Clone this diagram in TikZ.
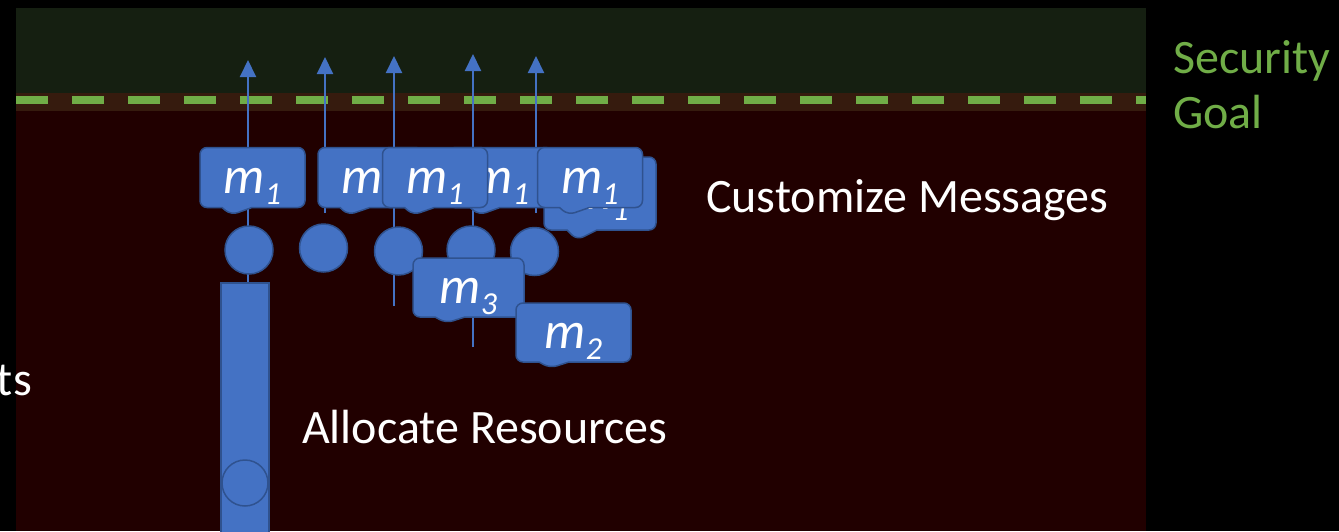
\documentclass[tikz,border=0pt]{standalone}
\usepackage{fontspec}
\setmainfont{Carlito}
\usetikzlibrary{arrows.meta,shapes.callouts}
\definecolor{topgreen}{HTML}{151F11}
\definecolor{bandbrown}{HTML}{361B0E}
\definecolor{lowred}{HTML}{210000}
\definecolor{dashgreen}{HTML}{70AD47}
\definecolor{mblue}{HTML}{4472C4}
\definecolor{mborder}{HTML}{2F528F}
\newcommand\mlab[1]{\raisebox{-9pt}[\height][\depth]{m\raisebox{-0.22em}{\fontsize{32}{32}\selectfont #1}}}
\tikzset{
  mcall/.style={rectangle callout, rounded corners=7pt, fill=mblue, draw=mborder,
    line width=1.5pt, inner sep=0pt, text=white, font=\fontsize{52}{52}\selectfont\itshape,
    callout pointer width=30pt},
  dot/.style={circle, fill=mblue, draw=mborder, line width=1.5pt, minimum size=48pt, inner sep=0pt},
  msgline/.style={draw=mblue, line width=2pt, -{Triangle[width=16pt,length=17pt]}},
  label/.style={text=white, inner sep=0pt, anchor=base west, font=\fontsize{48}{48}\selectfont}
}
\begin{document}
\begin{tikzpicture}[x=1pt,y=-1pt]
\useasboundingbox (0,0) rectangle (1339,531);
\fill[black] (0,0) rectangle (1339,531);
\fill[topgreen] (16,8) rectangle (1146,93);
\fill[bandbrown] (16,93) rectangle (1146,111);
\fill[lowred] (16,111) rectangle (1146,531);
\draw[dashgreen, line width=7.5pt, dash pattern=on 32pt off 24pt] (16,100) -- (1146,100);

% arrow ends
\coordinate (b1) at (248,283); \coordinate (t1) at (248,60);
\coordinate (b2) at (325,213); \coordinate (t2) at (325,57);
\coordinate (b3) at (394,306); \coordinate (t3) at (394,56);
\coordinate (b4) at (473,347); \coordinate (t4) at (473,54);
\coordinate (b5) at (536,213); \coordinate (t5) at (536,56);
\draw[msgline] (b1) -- (t1);
\draw[msgline] (b2) -- (t2);
\draw[msgline] (b3) -- (t3);
\draw[msgline] (b4) -- (t4);
\draw[msgline] (b5) -- (t5);

% resource bar
\node[rectangle, fill=mblue, draw=mborder, line width=1.5pt, minimum width=48pt, minimum height=260pt, inner sep=0pt, anchor=north] (bar) at (245,282) {};
\node[circle, fill=mblue, draw=mborder, line width=1.5pt, minimum size=46pt, inner sep=0pt] (slot) at (245,483) {};

% circles
\node[dot] (c1) at (249,250) {};
\node[dot] (c2) at (323.5,248) {};
\node[dot] (c3) at (398.5,251) {};
\node[dot] (c4) at (471,250) {};
\node[dot] (c5) at (534.5,251.5) {};

% callouts
\node[mcall, minimum width=105pt, minimum height=60pt, callout absolute pointer={(231,215)}] (k1) at (252.5,177.5) {\mlab{1}};
\node[mcall, minimum width=105pt, minimum height=60pt, callout absolute pointer={(348,215)}] (k2) at (370.5,177.5) {\mlab{1}};
\node[mcall, minimum width=105pt, minimum height=60pt, callout absolute pointer={(479,215)}] (k4) at (500.5,177.5) {\mlab{1}};
\node[mcall, minimum width=105pt, minimum height=60pt, callout absolute pointer={(413,215)}] (k3) at (435,177.5) {\mlab{1}};
\node[mcall, minimum width=112pt, minimum height=73pt, callout absolute pointer={(577,240)}] (k6) at (600,193.5) {\mlab{1}};
\node[mcall, minimum width=105pt, minimum height=60pt, callout absolute pointer={(568,215)}] (k5) at (590,177.5) {\mlab{1}};
\node[mcall, minimum width=111pt, minimum height=59pt, callout absolute pointer={(446,323)}] (k7) at (468.5,287.5) {\mlab{3}};
\node[mcall, minimum width=115pt, minimum height=59pt, callout absolute pointer={(550,368)}] (k8) at (573.5,332.5) {\mlab{2}};

% texts
\node[label] (cust) at (706,212) {Customize Messages};
\node[label] (alloc) at (302,443) {Allocate Resources};
\node[label, anchor=base east] (ts) at (32,395) {ts};
\node[label, text=dashgreen] (sec) at (1173,73) {Security};
\node[label, text=dashgreen] (goal) at (1173,128) {Goal};
\end{tikzpicture}
\end{document}
